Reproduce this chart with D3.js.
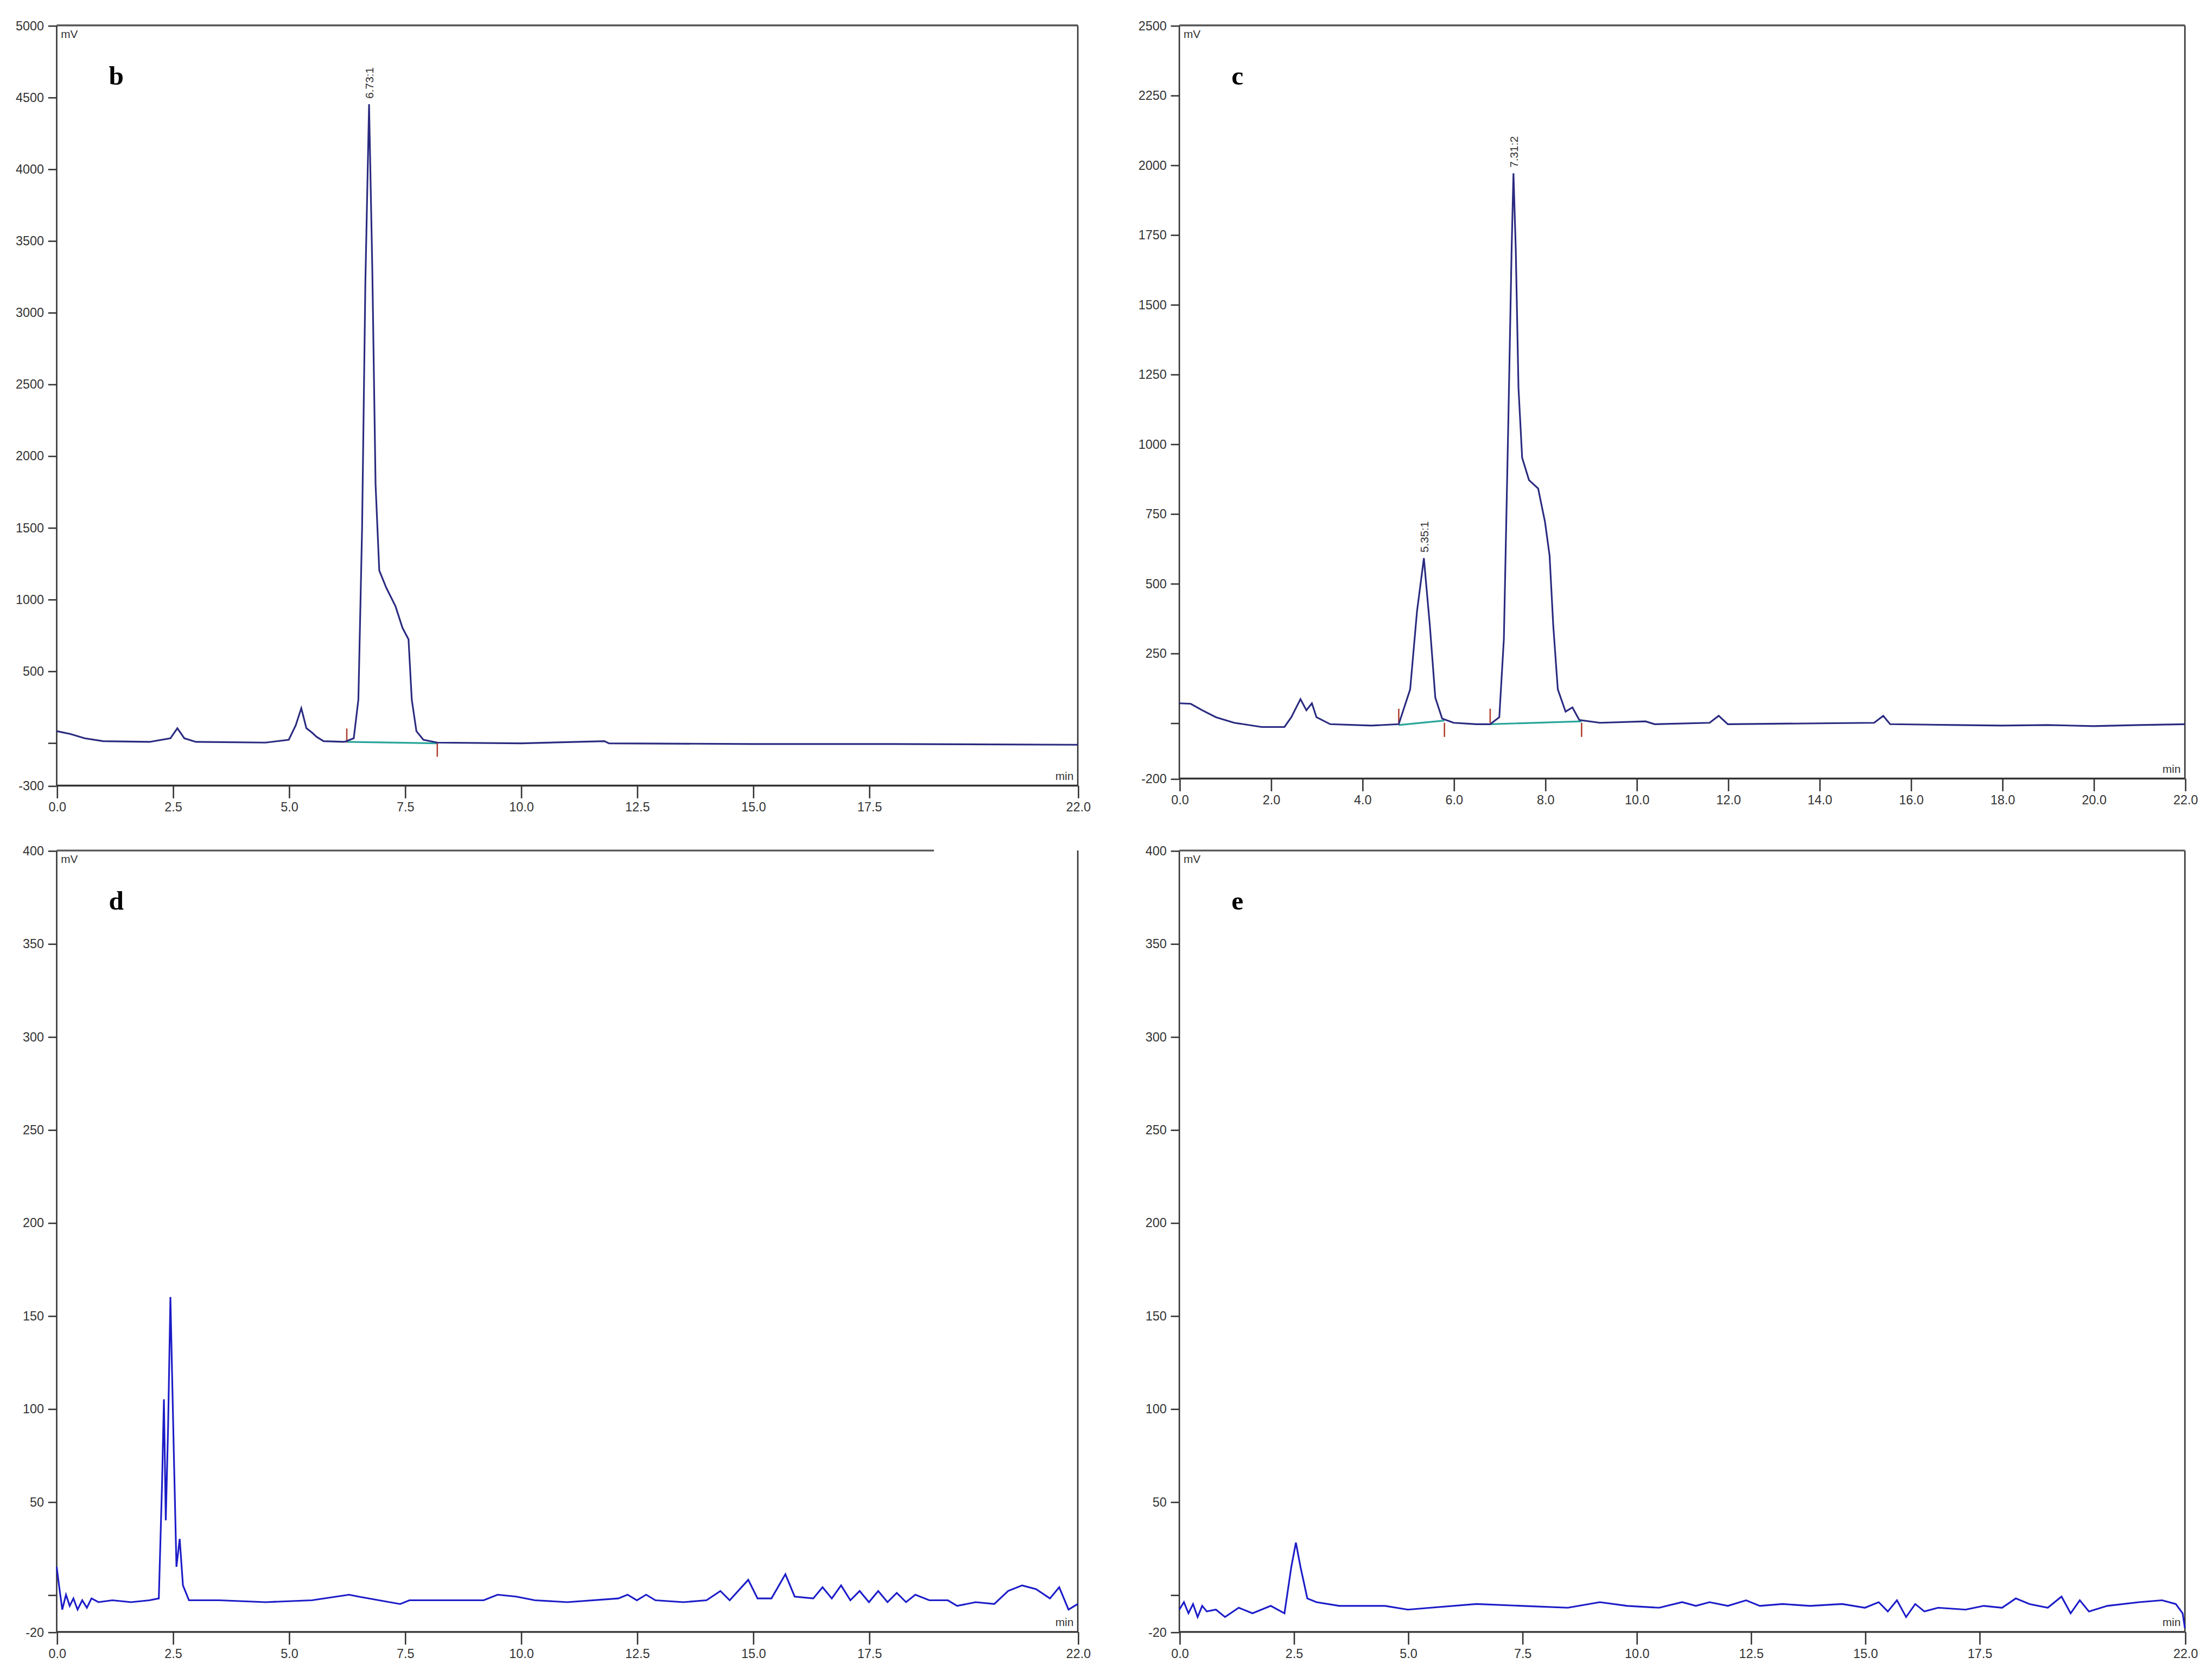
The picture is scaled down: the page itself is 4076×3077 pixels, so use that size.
<!DOCTYPE html>
<html><head><meta charset="utf-8">
<script src="https://cdn.jsdelivr.net/npm/d3@7"></script>
<style>body{margin:0;background:#fff}</style></head>
<body><svg id="c" width="4076" height="3077" viewBox="0 0 1568 1184"></svg>
<script>
const panelLabels = ["b","c","d","e"];
const seriesB = [[0,80],[0.3,60],[0.6,30],[1,10],[2,5],[2.45,30],[2.6,100],[2.75,30],[3,5],[4.5,0],[5,20],[5.15,120],[5.27,240],[5.38,100],[5.5,70],[5.6,40],[5.75,10],[6.2,5],[6.4,30],[6.5,300],[6.58,1500],[6.65,3200],[6.73,4450],[6.8,3300],[6.87,1800],[6.95,1200],[7.1,1080],[7.3,950],[7.45,800],[7.58,720],[7.65,300],[7.75,80],[7.9,20],[8.2,0],[10,-5],[11.8,10],[11.9,-5],[15,-10],[18,-10],[22,-15]];
const seriesC = [[0,70],[0.25,68],[0.5,45],[0.8,20],[1.2,0],[1.8,-15],[2.3,-15],[2.45,20],[2.65,85],[2.78,45],[2.9,70],[3.0,20],[3.3,-5],[4.2,-10],[4.8,-5],[5.05,120],[5.2,400],[5.35,590],[5.48,350],[5.6,90],[5.75,15],[6.0,0],[6.5,-5],[6.8,-5],[7.0,20],[7.1,300],[7.2,1100],[7.27,1700],[7.31,1970],[7.36,1700],[7.42,1200],[7.5,950],[7.65,870],[7.85,840],[8.0,720],[8.1,600],[8.18,350],[8.28,120],[8.45,40],[8.6,55],[8.75,10],[9.2,0],[10.2,5],[10.4,-5],[11.6,0],[11.8,25],[12.0,-5],[15.2,0],[15.4,25],[15.55,-5],[17,-8],[18,-10],[19,-8],[20,-12],[21,-8],[22,-5]];
const seriesD = [[0,15],[0.05,5],[0.12,-8],[0.2,0],[0.28,-6],[0.36,-2],[0.45,-8],[0.55,-3],[0.65,-7],[0.75,-2],[0.9,-4],[1.2,-3],[1.6,-4],[2.0,-3],[2.2,-2],[2.27,60],[2.31,105],[2.35,40],[2.4,90],[2.45,160],[2.52,80],[2.58,15],[2.65,30],[2.72,5],[2.85,-3],[3.5,-3],[4.5,-4],[5.5,-3],[6.3,0],[6.5,-1],[7.4,-5],[7.6,-3],[9.2,-3],[9.5,0],[9.9,-1],[10.3,-3],[11,-4],[12.1,-2],[12.3,0],[12.5,-3],[12.7,0],[12.9,-3],[13.5,-4],[14,-3],[14.3,2],[14.5,-3],[14.9,8],[15.1,-2],[15.4,-2],[15.7,11],[15.9,-1],[16.3,-2],[16.5,4],[16.7,-2],[16.9,5],[17.1,-3],[17.3,2],[17.5,-4],[17.7,2],[17.9,-4],[18.1,1],[18.3,-4],[18.5,0],[18.8,-3],[19.2,-3],[19.4,-6],[19.8,-4],[20.2,-5],[20.5,2],[20.8,5],[21.1,3],[21.4,-2],[21.6,4],[21.8,-8],[22,-5]];
const seriesE = [[0,-8],[0.1,-4],[0.2,-10],[0.3,-5],[0.4,-12],[0.5,-6],[0.6,-9],[0.8,-8],[1.0,-12],[1.3,-7],[1.6,-10],[2.0,-6],[2.3,-10],[2.45,15],[2.55,28],[2.65,15],[2.8,-2],[3.0,-4],[3.5,-6],[4.5,-6],[5.0,-8],[5.5,-7],[6.5,-5],[7.5,-6],[8.5,-7],[9.2,-4],[9.8,-6],[10.5,-7],[11.0,-4],[11.3,-6],[11.6,-4],[12.0,-6],[12.4,-3],[12.7,-6],[13.2,-5],[13.8,-6],[14.5,-5],[15.0,-7],[15.3,-4],[15.5,-9],[15.7,-3],[15.9,-12],[16.1,-5],[16.3,-9],[16.6,-7],[17.2,-8],[17.6,-6],[18.0,-7],[18.3,-2],[18.6,-5],[19.0,-7],[19.3,-1],[19.5,-10],[19.7,-3],[19.9,-9],[20.3,-6],[21,-4],[21.5,-3],[21.8,-5],[21.95,-10],[22,-18]];
const yTicksB = [-300,0,500,1000,1500,2000,2500,3000,3500,4000,4500,5000];
const yTicksC = [-200,0,250,500,750,1000,1250,1500,1750,2000,2250,2500];
const yTicksDE = [-20,0,50,100,150,200,250,300,350,400];
const xTicksBDE = [0,2.5,5,7.5,10,12.5,15,17.5,22];
const xTicksC = [0,2,4,6,8,10,12,14,16,18,20,22];
const peakLabelsB = [[6.73,4450,"6.73:1"]];
const peakLabelsC = [[5.35,590,"5.35:1"],[7.31,1970,"7.31:2"]];
const baselinesB = [[6.25,5,8.2,-5]];
const baselinesC = [[4.8,-8,5.8,8],[6.8,-5,8.8,5]];
const markersB = [6.25,8.2];
const markersC = [4.8,5.8,6.8,8.8];

const svg = d3.select("#c");
const font = "'Liberation Sans Narrow','Liberation Sans',Arial,sans-serif";
const panels = [
 {lab:"b",x0:40,x1:764,y0:18,y1:557,dom:[-300,5000],yt:yTicksB,xt:xTicksBDE,xf:d3.format(".1f"),data:seriesB,col:"#2a2a80",peaks:peakLabelsB,bases:baselinesB,marks:markersB},
 {lab:"c",x0:836,x1:1549,y0:18,y1:552,dom:[-200,2500],yt:yTicksC,xt:xTicksC,xf:d3.format(".1f"),data:seriesC,col:"#2a2a80",peaks:peakLabelsC,bases:baselinesC,marks:markersC},
 {lab:"d",x0:40,x1:764,y0:603,y1:1157,dom:[-20,400],yt:yTicksDE,xt:xTicksBDE,xf:d3.format(".1f"),data:seriesD,col:"#1c1cc8",peaks:[],bases:[],marks:[],topEnd:662},
 {lab:"e",x0:836,x1:1549,y0:603,y1:1157,dom:[-20,400],yt:yTicksDE,xt:xTicksBDE,xf:d3.format(".1f"),data:seriesE,col:"#1c1cc8",peaks:[],bases:[],marks:[]}
];
panels.forEach(p=>{
 const x=d3.scaleLinear().domain([0,22]).range([p.x0,p.x1]);
 const y=d3.scaleLinear().domain(p.dom).range([p.y1,p.y0]);
 const g=svg.append("g");
 const ya=g.append("g").attr("transform",`translate(${p.x0},0)`)
  .call(d3.axisLeft(y).tickValues(p.yt).tickSize(6).tickFormat(d=>d===0?"":d));
 const xa=g.append("g").attr("transform",`translate(0,${p.y1})`)
  .call(d3.axisBottom(x).tickValues(p.xt).tickSize(9).tickFormat(p.xf));
 [ya,xa].forEach(a=>{a.select(".domain").remove();a.selectAll("line").attr("stroke","#333");
  a.selectAll("text").attr("font-family",font).attr("font-size",9).attr("fill","#333");});
 // frame
 g.append("line").attr("x1",p.x0).attr("x2",p.x0).attr("y1",p.y0).attr("y2",p.y1).attr("stroke","#333");
 g.append("line").attr("x1",p.x1).attr("x2",p.x1).attr("y1",p.y0).attr("y2",p.y1).attr("stroke","#333");
 g.append("line").attr("x1",p.x0).attr("x2",p.x1).attr("y1",p.y1).attr("y2",p.y1).attr("stroke","#333").attr("stroke-width",1.3);
 g.append("line").attr("x1",p.x0).attr("x2",p.topEnd||p.x1).attr("y1",p.y0).attr("y2",p.y0).attr("stroke","#555").attr("stroke-width",1.3);
 g.append("text").attr("x",p.x0+3).attr("y",p.y0+9).text("mV").attr("font-family",font).attr("font-size",8).attr("fill","#333");
 g.append("text").attr("x",p.x1-3).attr("y",p.y1-4).attr("text-anchor","end").text("min").attr("font-family",font).attr("font-size",8).attr("fill","#333");
 g.append("text").attr("x",p.x0+37).attr("y",p.y0+42).text(p.lab).attr("font-family","'Liberation Serif','Times New Roman',serif").attr("font-weight","bold").attr("font-size",19);
 p.bases.forEach(b=>g.append("line").attr("x1",x(b[0])).attr("y1",y(b[1])).attr("x2",x(b[2])).attr("y2",y(b[3])).attr("stroke","#2aa59a").attr("stroke-width",1.2));
 p.marks.forEach((m,i)=>{const yy=y(0);g.append("line").attr("x1",x(m)).attr("x2",x(m)).attr("y1",i%2===0?yy-10:yy).attr("y2",i%2===0?yy:yy+10).attr("stroke","#b04030").attr("stroke-width",1);});
 g.append("path").datum(p.data).attr("fill","none").attr("stroke",p.col).attr("stroke-width",1.2)
  .attr("d",d3.line().x(d=>x(d[0])).y(d=>y(d[1])));
 p.peaks.forEach(k=>g.append("text").attr("transform",`translate(${x(k[0])+3},${y(k[1])-4}) rotate(-90)`)
  .text(k[2]).attr("font-family",font).attr("font-size",8).attr("fill","#333"));
});
</script></body></html>
